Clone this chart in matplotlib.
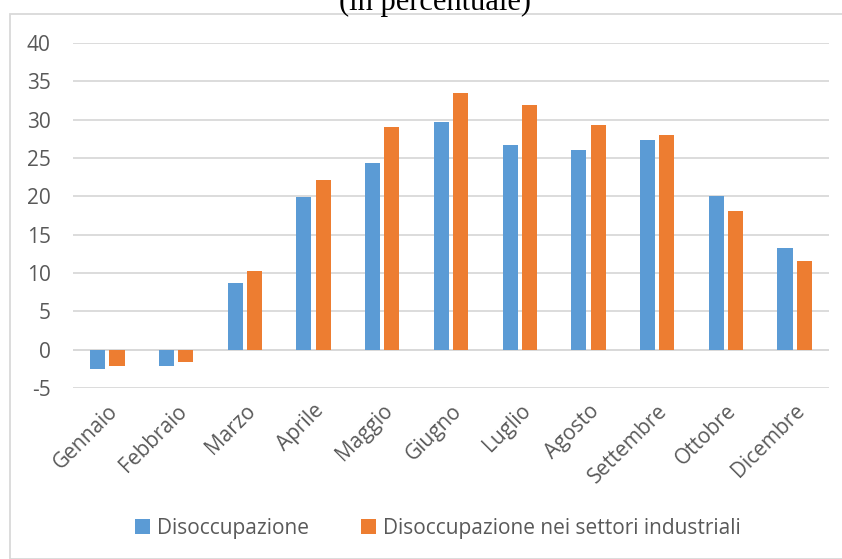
import numpy as np
import matplotlib
matplotlib.use('Agg')
import matplotlib.pyplot as plt
from matplotlib.patches import Rectangle

mesi = ['Gennaio', 'Febbraio', 'Marzo', 'Aprile', 'Maggio', 'Giugno',
        'Luglio', 'Agosto', 'Settembre', 'Ottobre', 'Dicembre']
disoccupazione = [-2.5, -2.1, 8.65, 19.9, 24.3, 29.65, 26.7, 26.1, 27.35, 20.05, 13.2]
disocc_industria = [-2.1, -1.6, 10.3, 22.1, 29.0, 33.5, 31.95, 29.35, 28.0, 18.1, 11.6]
y_ticks = [-5, 0, 5, 10, 15, 20, 25, 30, 35, 40]

blu = '#5b9bd5'
arancio = '#ed7d31'
grigio = '#595959'

plt.rcParams['font.family'] = ['Open Sans', 'DejaVu Sans']

fig = plt.figure(figsize=(8.42, 5.59), dpi=100)
ax = fig.add_axes([73/842, 1 - 388/559, (829-73)/842, (388-43)/559])

x = np.arange(len(mesi))
w = 0.22
ax.bar(x - 0.14, disoccupazione, w, color=blu, label='Disoccupazione', zorder=3)
ax.bar(x + 0.14, disocc_industria, w, color=arancio,
       label='Disoccupazione nei settori industriali', zorder=3)

ax.set_xlim(-0.5, len(mesi) - 0.5)
ax.set_ylim(-5, 40)
ax.set_yticks(y_ticks)
ax.yaxis.grid(True, color='#d9d9d9', linewidth=1.3, zorder=0)
ax.axhline(0, color='#d9d9d9', linewidth=1.3, zorder=1)
for s in ax.spines.values():
    s.set_visible(False)
ax.tick_params(axis='both', length=0, colors=grigio, labelsize=15)
ax.tick_params(axis='y', pad=16)
ax.set_yticklabels([str(v) for v in y_ticks], ha='right')

ax.set_xticks(x)
ax.set_xticklabels(mesi, rotation=45, ha='right', rotation_mode='anchor')
ax.tick_params(axis='x', pad=9)

leg = ax.legend(loc='center', bbox_to_anchor=(0.483, -0.406), ncol=2, frameon=False,
                fontsize=15, handlelength=0.7, handleheight=0.7, columnspacing=2.5,
                handletextpad=0.35, labelcolor=grigio)

# cornice del grafico
fig.patches.append(Rectangle((10/842, 0), 1.0, 1 - 14/559, transform=fig.transFigure,
                             fill=False, edgecolor='#d9d9d9', linewidth=1.3))

fig.text(435/842, 1 - 10/559, '(in percentuale)', ha='center', va='baseline',
         fontsize=22, family=['Liberation Serif', 'DejaVu Serif'], color='black')

fig.savefig('out.png', dpi=100)
